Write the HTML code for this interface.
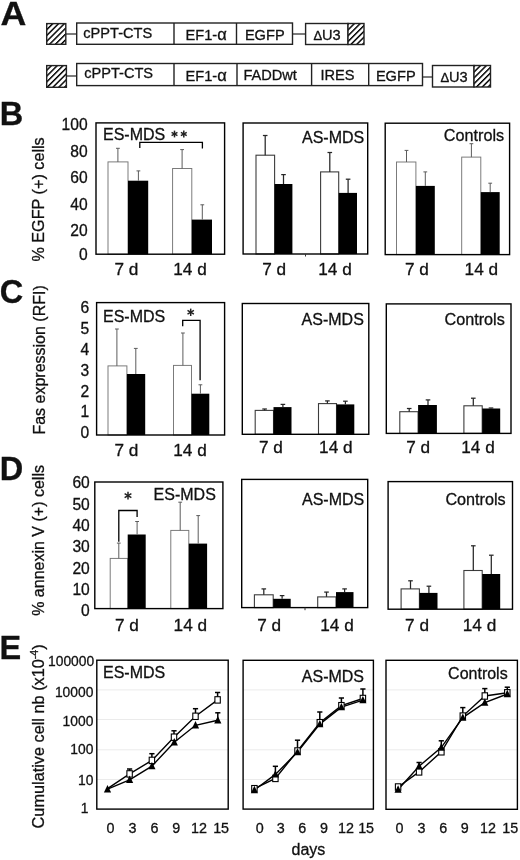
<!DOCTYPE html>
<html><head><meta charset="utf-8"><title>Figure</title>
<style>
html,body{margin:0;padding:0;background:#fff;}
body{width:520px;height:860px;overflow:hidden;font-family:"Liberation Sans", sans-serif;}
svg{display:block;will-change:transform;filter:blur(0.35px);}
svg text{font-family:"Liberation Sans", sans-serif;fill:#111;stroke:#111;stroke-width:0.3px;}
</style></head><body>
<svg width="520" height="860" viewBox="0 0 520 860">
<defs>
<pattern id="hatch" width="4.1" height="4.1" patternUnits="userSpaceOnUse" patternTransform="rotate(-45)">
<rect width="4.1" height="4.1" fill="#fff"/>
<rect y="0" width="4.1" height="1.45" fill="#000"/>
</pattern>
</defs>
<rect width="520" height="860" fill="#fff"/>
<text transform="translate(0.6,25.2) scale(1.1,1)" font-size="32.5" font-weight="bold">A</text>
<text x="-0.3" y="125.3" font-size="32.5" text-anchor="start" font-weight="bold" stroke="#111" stroke-width="0.4">B</text>
<text x="-0.3" y="302.6" font-size="32.5" text-anchor="start" font-weight="bold" stroke="#111" stroke-width="0.4">C</text>
<text x="-0.3" y="479.5" font-size="32.5" text-anchor="start" font-weight="bold" stroke="#111" stroke-width="0.4">D</text>
<text x="-0.5" y="659.3" font-size="32.5" text-anchor="start" font-weight="bold" stroke="#111" stroke-width="0.4">E</text>
<rect x="46.7" y="23.6" width="19.1" height="20.7" fill="url(#hatch)" stroke="#222" stroke-width="1.4"/>
<line x1="65.8" y1="34" x2="76.7" y2="34" stroke="#222" stroke-width="1.2" />
<rect x="76.7" y="23" width="215.8" height="21.3" fill="none" stroke="#222" stroke-width="1.4"/>
<line x1="174" y1="23" x2="174" y2="44.3" stroke="#222" stroke-width="1.4" />
<line x1="236.5" y1="23" x2="236.5" y2="44.3" stroke="#222" stroke-width="1.4" />
<line x1="292.5" y1="34" x2="305.6" y2="34" stroke="#222" stroke-width="1.2" />
<rect x="305.6" y="23.5" width="42.4" height="21.0" fill="none" stroke="#222" stroke-width="1.4"/>
<rect x="348" y="23.5" width="16" height="21.0" fill="url(#hatch)" stroke="#222" stroke-width="1.4"/>
<text x="83.3" y="38" font-size="14.6" text-anchor="start" font-weight="normal" >cPPT-CTS</text>
<text x="185.5" y="40" font-size="14.6" text-anchor="start" font-weight="normal" >EF1-<tspan font-size="16.5">α</tspan></text>
<text x="244.9" y="40" font-size="14.6" text-anchor="start" font-weight="normal" >EGFP</text>
<text x="313.4" y="40" font-size="14.6" text-anchor="start" font-weight="normal" ><tspan font-size="13">Δ</tspan>U3</text>
<rect x="46.7" y="65.6" width="19.7" height="21.7" fill="url(#hatch)" stroke="#222" stroke-width="1.4"/>
<line x1="66.4" y1="76" x2="76.7" y2="76" stroke="#222" stroke-width="1.2" />
<rect x="76.7" y="63.5" width="345.8" height="22.1" fill="none" stroke="#222" stroke-width="1.4"/>
<line x1="174" y1="63.5" x2="174" y2="85.6" stroke="#222" stroke-width="1.4" />
<line x1="237" y1="63.5" x2="237" y2="85.6" stroke="#222" stroke-width="1.4" />
<line x1="311.6" y1="63.5" x2="311.6" y2="85.6" stroke="#222" stroke-width="1.4" />
<line x1="368.7" y1="63.5" x2="368.7" y2="85.6" stroke="#222" stroke-width="1.4" />
<line x1="422.5" y1="77" x2="432.5" y2="77" stroke="#222" stroke-width="1.2" />
<rect x="432.5" y="65.5" width="41.5" height="21.5" fill="none" stroke="#222" stroke-width="1.4"/>
<rect x="474" y="65.5" width="16.5" height="21.5" fill="url(#hatch)" stroke="#222" stroke-width="1.4"/>
<text x="84.2" y="78" font-size="14.6" text-anchor="start" font-weight="normal" >cPPT-CTS</text>
<text x="185.5" y="80.6" font-size="14.6" text-anchor="start" font-weight="normal" >EF1-<tspan font-size="16.5">α</tspan></text>
<text x="243.4" y="80" font-size="14.6" text-anchor="start" font-weight="normal" >FADDwt</text>
<text x="320.4" y="79.6" font-size="14.6" text-anchor="start" font-weight="normal" >IRES</text>
<text x="375.9" y="81" font-size="14.6" text-anchor="start" font-weight="normal" >EGFP</text>
<text x="440.4" y="81.8" font-size="14.6" text-anchor="start" font-weight="normal" ><tspan font-size="13">Δ</tspan>U3</text>
<rect x="108" y="161.9" width="20" height="92.3" fill="#fff" stroke="#757575" stroke-width="0.95"/>
<line x1="117.9" y1="161.9" x2="117.9" y2="148.3" stroke="#5c5c5c" stroke-width="1.0" />
<line x1="116.0" y1="148.3" x2="119.8" y2="148.3" stroke="#5c5c5c" stroke-width="1.0" />
<rect x="128" y="180.7" width="20.2" height="73.5" fill="#000" stroke="none"/>
<line x1="138.4" y1="180.7" x2="138.4" y2="170.9" stroke="#5c5c5c" stroke-width="1.0" />
<line x1="136.5" y1="170.9" x2="140.3" y2="170.9" stroke="#5c5c5c" stroke-width="1.0" />
<rect x="172.6" y="168.5" width="19.2" height="85.7" fill="#fff" stroke="#757575" stroke-width="0.95"/>
<line x1="182.1" y1="168.5" x2="182.1" y2="149.6" stroke="#5c5c5c" stroke-width="1.0" />
<line x1="180.2" y1="149.6" x2="184.0" y2="149.6" stroke="#5c5c5c" stroke-width="1.0" />
<rect x="191.8" y="219.6" width="20.2" height="34.6" fill="#000" stroke="none"/>
<line x1="202.3" y1="219.6" x2="202.3" y2="204.8" stroke="#5c5c5c" stroke-width="1.0" />
<line x1="200.4" y1="204.8" x2="204.2" y2="204.8" stroke="#5c5c5c" stroke-width="1.0" />
<rect x="96" y="122.9" width="128.6" height="131.3" fill="none" stroke="#000" stroke-width="1.4"/>
<rect x="256" y="155.2" width="18.6" height="98.8" fill="#fff" stroke="#3c3c3c" stroke-width="1.1"/>
<line x1="265.2" y1="155.2" x2="265.2" y2="135.5" stroke="#262626" stroke-width="1.25" />
<line x1="262.9" y1="135.5" x2="267.5" y2="135.5" stroke="#262626" stroke-width="1.25" />
<rect x="274.6" y="184" width="17.8" height="70" fill="#000" stroke="none"/>
<line x1="283.5" y1="184" x2="283.5" y2="174.6" stroke="#262626" stroke-width="1.25" />
<line x1="281.2" y1="174.6" x2="285.8" y2="174.6" stroke="#262626" stroke-width="1.25" />
<rect x="320.6" y="171.9" width="18.1" height="82.1" fill="#fff" stroke="#3c3c3c" stroke-width="1.1"/>
<line x1="329.8" y1="171.9" x2="329.8" y2="152.5" stroke="#262626" stroke-width="1.25" />
<line x1="327.5" y1="152.5" x2="332.1" y2="152.5" stroke="#262626" stroke-width="1.25" />
<rect x="338.7" y="192.9" width="18.3" height="61.1" fill="#000" stroke="none"/>
<line x1="348.1" y1="192.9" x2="348.1" y2="179.2" stroke="#262626" stroke-width="1.25" />
<line x1="345.8" y1="179.2" x2="350.4" y2="179.2" stroke="#262626" stroke-width="1.25" />
<rect x="243.1" y="123" width="124.6" height="131" fill="none" stroke="#000" stroke-width="1.4"/>
<line x1="305.5" y1="254" x2="305.5" y2="256.5" stroke="#333" stroke-width="1" />
<rect x="396.5" y="162" width="19.4" height="92.6" fill="#fff" stroke="#757575" stroke-width="0.95"/>
<line x1="406.5" y1="162" x2="406.5" y2="150.4" stroke="#5c5c5c" stroke-width="1.0" />
<line x1="404.6" y1="150.4" x2="408.4" y2="150.4" stroke="#5c5c5c" stroke-width="1.0" />
<rect x="415.9" y="185.9" width="18.9" height="68.7" fill="#000" stroke="none"/>
<line x1="425.3" y1="185.9" x2="425.3" y2="171.9" stroke="#5c5c5c" stroke-width="1.0" />
<line x1="423.4" y1="171.9" x2="427.2" y2="171.9" stroke="#5c5c5c" stroke-width="1.0" />
<rect x="461.7" y="157.1" width="19.1" height="97.5" fill="#fff" stroke="#757575" stroke-width="0.95"/>
<line x1="471.4" y1="157.1" x2="471.4" y2="143.7" stroke="#5c5c5c" stroke-width="1.0" />
<line x1="469.5" y1="143.7" x2="473.3" y2="143.7" stroke="#5c5c5c" stroke-width="1.0" />
<rect x="480.8" y="192.1" width="18.9" height="62.5" fill="#000" stroke="none"/>
<line x1="490.2" y1="192.1" x2="490.2" y2="183.2" stroke="#5c5c5c" stroke-width="1.0" />
<line x1="488.3" y1="183.2" x2="492.1" y2="183.2" stroke="#5c5c5c" stroke-width="1.0" />
<rect x="385.2" y="123.2" width="124.4" height="131.4" fill="none" stroke="#000" stroke-width="1.4"/>
<text x="87.6" y="130.3" font-size="15.6" text-anchor="end" font-weight="normal" >100</text>
<text x="87.6" y="156.7" font-size="15.6" text-anchor="end" font-weight="normal" >80</text>
<text x="87.6" y="183.2" font-size="15.6" text-anchor="end" font-weight="normal" >60</text>
<text x="87.6" y="209.7" font-size="15.6" text-anchor="end" font-weight="normal" >40</text>
<text x="87.6" y="235.7" font-size="15.6" text-anchor="end" font-weight="normal" >20</text>
<text x="87.6" y="259.8" font-size="15.6" text-anchor="end" font-weight="normal" >0</text>
<text transform="translate(44.3,261.6) rotate(-90)" font-size="16.2">% EGFP (+) cells</text>
<text x="103" y="139.5" font-size="16.0" text-anchor="start" font-weight="normal" >ES-MDS</text>
<text x="302.0" y="143.2" font-size="16.0" text-anchor="start" font-weight="normal" >AS-MDS</text>
<text x="443.8" y="140.9" font-size="16.2" text-anchor="start" font-weight="normal" >Controls</text>
<text x="114.5" y="275.1" font-size="17.2" text-anchor="start" font-weight="normal" >7 d</text>
<text x="173.29999999999998" y="275.1" font-size="17.2" text-anchor="start" font-weight="normal" >14 d</text>
<text x="262.2" y="275.1" font-size="17.2" text-anchor="start" font-weight="normal" >7 d</text>
<text x="318.29999999999995" y="275.1" font-size="17.2" text-anchor="start" font-weight="normal" >14 d</text>
<text x="405.0" y="275.1" font-size="17.2" text-anchor="start" font-weight="normal" >7 d</text>
<text x="464.59999999999997" y="275.1" font-size="17.2" text-anchor="start" font-weight="normal" >14 d</text>
<polyline points="139.8,148 139.8,142.3 202.4,142.3 202.4,148.6" fill="none" stroke="#000" stroke-width="1.3"/>
<line x1="174.5" y1="130.6" x2="174.5" y2="137.4" stroke="#222" stroke-width="1.5" />
<line x1="171.56" y1="132.3" x2="177.44" y2="135.7" stroke="#222" stroke-width="1.5" />
<line x1="177.44" y1="132.3" x2="171.56" y2="135.7" stroke="#222" stroke-width="1.5" />
<line x1="183.8" y1="130.6" x2="183.8" y2="137.4" stroke="#222" stroke-width="1.5" />
<line x1="180.86" y1="132.3" x2="186.74" y2="135.7" stroke="#222" stroke-width="1.5" />
<line x1="186.74" y1="132.3" x2="180.86" y2="135.7" stroke="#222" stroke-width="1.5" />
<rect x="108" y="365.9" width="18.9" height="69.1" fill="#fff" stroke="#757575" stroke-width="0.95"/>
<line x1="116.9" y1="365.9" x2="116.9" y2="329" stroke="#5c5c5c" stroke-width="1.0" />
<line x1="115.0" y1="329" x2="118.8" y2="329" stroke="#5c5c5c" stroke-width="1.0" />
<rect x="126.9" y="374" width="18.3" height="61" fill="#000" stroke="none"/>
<line x1="135.8" y1="374" x2="135.8" y2="348.4" stroke="#5c5c5c" stroke-width="1.0" />
<line x1="133.9" y1="348.4" x2="137.7" y2="348.4" stroke="#5c5c5c" stroke-width="1.0" />
<rect x="173.5" y="365.4" width="18.0" height="69.6" fill="#fff" stroke="#757575" stroke-width="0.95"/>
<line x1="182.9" y1="365.4" x2="182.9" y2="333" stroke="#5c5c5c" stroke-width="1.0" />
<line x1="181.0" y1="333" x2="184.8" y2="333" stroke="#5c5c5c" stroke-width="1.0" />
<rect x="191.5" y="393.7" width="17.8" height="41.3" fill="#000" stroke="none"/>
<line x1="200.4" y1="393.7" x2="200.4" y2="384.8" stroke="#5c5c5c" stroke-width="1.0" />
<line x1="198.5" y1="384.8" x2="202.3" y2="384.8" stroke="#5c5c5c" stroke-width="1.0" />
<rect x="96.6" y="302.6" width="128.0" height="132.4" fill="none" stroke="#000" stroke-width="1.4"/>
<rect x="255.2" y="410.4" width="18.3" height="23.9" fill="#fff" stroke="#3c3c3c" stroke-width="1.1"/>
<line x1="264.6" y1="410.4" x2="264.6" y2="409" stroke="#262626" stroke-width="1.25" />
<line x1="262.3" y1="409" x2="266.9" y2="409" stroke="#262626" stroke-width="1.25" />
<rect x="273.5" y="407.1" width="18.0" height="27.2" fill="#000" stroke="none"/>
<line x1="282.9" y1="407.1" x2="282.9" y2="404.4" stroke="#262626" stroke-width="1.25" />
<line x1="280.6" y1="404.4" x2="285.2" y2="404.4" stroke="#262626" stroke-width="1.25" />
<rect x="318.5" y="403.6" width="18.0" height="30.7" fill="#fff" stroke="#3c3c3c" stroke-width="1.1"/>
<line x1="327.4" y1="403.6" x2="327.4" y2="400.9" stroke="#262626" stroke-width="1.25" />
<line x1="325.1" y1="400.9" x2="329.7" y2="400.9" stroke="#262626" stroke-width="1.25" />
<rect x="336.5" y="404.4" width="17.8" height="29.9" fill="#000" stroke="none"/>
<line x1="345.4" y1="404.4" x2="345.4" y2="401.2" stroke="#262626" stroke-width="1.25" />
<line x1="343.1" y1="401.2" x2="347.7" y2="401.2" stroke="#262626" stroke-width="1.25" />
<rect x="242.3" y="303.5" width="126.5" height="130.8" fill="none" stroke="#000" stroke-width="1.4"/>
<rect x="399.8" y="411.7" width="18.3" height="21.7" fill="#fff" stroke="#3c3c3c" stroke-width="1.1"/>
<line x1="409.2" y1="411.7" x2="409.2" y2="408.5" stroke="#262626" stroke-width="1.25" />
<line x1="406.9" y1="408.5" x2="411.5" y2="408.5" stroke="#262626" stroke-width="1.25" />
<rect x="418.1" y="405" width="18.8" height="28.4" fill="#000" stroke="none"/>
<line x1="428" y1="405" x2="428" y2="399.9" stroke="#262626" stroke-width="1.25" />
<line x1="425.7" y1="399.9" x2="430.3" y2="399.9" stroke="#262626" stroke-width="1.25" />
<rect x="463.9" y="405.8" width="18.3" height="27.6" fill="#fff" stroke="#3c3c3c" stroke-width="1.1"/>
<line x1="473.3" y1="405.8" x2="473.3" y2="398.2" stroke="#262626" stroke-width="1.25" />
<line x1="471.0" y1="398.2" x2="475.6" y2="398.2" stroke="#262626" stroke-width="1.25" />
<rect x="482.2" y="408.5" width="18.0" height="24.9" fill="#000" stroke="none"/>
<line x1="491" y1="408.5" x2="491" y2="408" stroke="#262626" stroke-width="1.25" />
<line x1="488.7" y1="408" x2="493.3" y2="408" stroke="#262626" stroke-width="1.25" />
<rect x="386.3" y="303.9" width="124.7" height="129.5" fill="none" stroke="#000" stroke-width="1.4"/>
<text x="89.3" y="312.9" font-size="15.6" text-anchor="end" font-weight="normal" >6</text>
<text x="89.3" y="333.9" font-size="15.6" text-anchor="end" font-weight="normal" >5</text>
<text x="89.3" y="354.7" font-size="15.6" text-anchor="end" font-weight="normal" >4</text>
<text x="89.3" y="375.8" font-size="15.6" text-anchor="end" font-weight="normal" >3</text>
<text x="89.3" y="396.6" font-size="15.6" text-anchor="end" font-weight="normal" >2</text>
<text x="89.3" y="417.4" font-size="15.6" text-anchor="end" font-weight="normal" >1</text>
<text x="89.3" y="438.1" font-size="15.6" text-anchor="end" font-weight="normal" >0</text>
<text transform="translate(44.5,434.6) rotate(-90)" font-size="16">Fas expression (RFI)</text>
<text x="103" y="322.3" font-size="16.0" text-anchor="start" font-weight="normal" >ES-MDS</text>
<text x="301.6" y="324.7" font-size="16.0" text-anchor="start" font-weight="normal" >AS-MDS</text>
<text x="444.5" y="325" font-size="16.2" text-anchor="start" font-weight="normal" >Controls</text>
<text x="114.5" y="455.6" font-size="17.2" text-anchor="start" font-weight="normal" >7 d</text>
<text x="173.29999999999998" y="455.6" font-size="17.2" text-anchor="start" font-weight="normal" >14 d</text>
<text x="259.0" y="453.1" font-size="17.2" text-anchor="start" font-weight="normal" >7 d</text>
<text x="319.09999999999997" y="453.1" font-size="17.2" text-anchor="start" font-weight="normal" >14 d</text>
<text x="406.2" y="452.8" font-size="17.2" text-anchor="start" font-weight="normal" >7 d</text>
<text x="461.29999999999995" y="452.8" font-size="17.2" text-anchor="start" font-weight="normal" >14 d</text>
<polyline points="182.7,326.3 182.7,320.3 200.1,320.3 200.1,380.2" fill="none" stroke="#000" stroke-width="1.3"/>
<line x1="190.7" y1="308.6" x2="190.7" y2="316.0" stroke="#222" stroke-width="1.5" />
<line x1="187.5" y1="310.45" x2="193.9" y2="314.15" stroke="#222" stroke-width="1.5" />
<line x1="193.9" y1="310.45" x2="187.5" y2="314.15" stroke="#222" stroke-width="1.5" />
<rect x="110.2" y="558.4" width="17.5" height="50.2" fill="#fff" stroke="#757575" stroke-width="0.95"/>
<line x1="118.8" y1="558.4" x2="118.8" y2="543.1" stroke="#5c5c5c" stroke-width="1.0" />
<line x1="116.9" y1="543.1" x2="120.7" y2="543.1" stroke="#5c5c5c" stroke-width="1.0" />
<rect x="127.7" y="534.5" width="18.0" height="74.1" fill="#000" stroke="none"/>
<line x1="137.1" y1="534.5" x2="137.1" y2="521.5" stroke="#5c5c5c" stroke-width="1.0" />
<line x1="135.2" y1="521.5" x2="139.0" y2="521.5" stroke="#5c5c5c" stroke-width="1.0" />
<rect x="170.8" y="530.4" width="18.0" height="78.2" fill="#fff" stroke="#757575" stroke-width="0.95"/>
<line x1="180.2" y1="530.4" x2="180.2" y2="502.2" stroke="#5c5c5c" stroke-width="1.0" />
<line x1="178.3" y1="502.2" x2="182.1" y2="502.2" stroke="#5c5c5c" stroke-width="1.0" />
<rect x="188.8" y="543.6" width="18.3" height="65.0" fill="#000" stroke="none"/>
<line x1="198.2" y1="543.6" x2="198.2" y2="515.6" stroke="#5c5c5c" stroke-width="1.0" />
<line x1="196.3" y1="515.6" x2="200.1" y2="515.6" stroke="#5c5c5c" stroke-width="1.0" />
<rect x="94.8" y="482" width="128.1" height="126.6" fill="none" stroke="#000" stroke-width="1.4"/>
<rect x="254.4" y="594.8" width="18.8" height="12.8" fill="#fff" stroke="#3c3c3c" stroke-width="1.1"/>
<line x1="263.8" y1="594.8" x2="263.8" y2="588.9" stroke="#262626" stroke-width="1.25" />
<line x1="261.5" y1="588.9" x2="266.1" y2="588.9" stroke="#262626" stroke-width="1.25" />
<rect x="273.2" y="598.8" width="17.5" height="8.8" fill="#000" stroke="none"/>
<line x1="282.1" y1="598.8" x2="282.1" y2="595.6" stroke="#262626" stroke-width="1.25" />
<line x1="279.8" y1="595.6" x2="284.4" y2="595.6" stroke="#262626" stroke-width="1.25" />
<rect x="317.7" y="596.9" width="18.3" height="10.7" fill="#fff" stroke="#3c3c3c" stroke-width="1.1"/>
<line x1="326.5" y1="596.9" x2="326.5" y2="592.1" stroke="#262626" stroke-width="1.25" />
<line x1="324.2" y1="592.1" x2="328.8" y2="592.1" stroke="#262626" stroke-width="1.25" />
<rect x="336" y="592.1" width="17.5" height="15.5" fill="#000" stroke="none"/>
<line x1="344.6" y1="592.1" x2="344.6" y2="588.9" stroke="#262626" stroke-width="1.25" />
<line x1="342.3" y1="588.9" x2="346.9" y2="588.9" stroke="#262626" stroke-width="1.25" />
<rect x="241.7" y="479.4" width="126.0" height="128.2" fill="none" stroke="#000" stroke-width="1.4"/>
<line x1="305" y1="607.6" x2="305" y2="610.2" stroke="#333" stroke-width="1" />
<rect x="401.1" y="588.9" width="18.3" height="20.3" fill="#fff" stroke="#3c3c3c" stroke-width="1.1"/>
<line x1="410.5" y1="588.9" x2="410.5" y2="580.8" stroke="#262626" stroke-width="1.25" />
<line x1="408.2" y1="580.8" x2="412.8" y2="580.8" stroke="#262626" stroke-width="1.25" />
<rect x="419.4" y="592.9" width="18.1" height="16.3" fill="#000" stroke="none"/>
<line x1="428.9" y1="592.9" x2="428.9" y2="586.2" stroke="#262626" stroke-width="1.25" />
<line x1="426.6" y1="586.2" x2="431.2" y2="586.2" stroke="#262626" stroke-width="1.25" />
<rect x="463.9" y="570.5" width="18.3" height="38.7" fill="#fff" stroke="#3c3c3c" stroke-width="1.1"/>
<line x1="473.3" y1="570.5" x2="473.3" y2="545.8" stroke="#262626" stroke-width="1.25" />
<line x1="471.0" y1="545.8" x2="475.6" y2="545.8" stroke="#262626" stroke-width="1.25" />
<rect x="482.2" y="574" width="18.0" height="35.2" fill="#000" stroke="none"/>
<line x1="491.3" y1="574" x2="491.3" y2="555.2" stroke="#262626" stroke-width="1.25" />
<line x1="489.0" y1="555.2" x2="493.6" y2="555.2" stroke="#262626" stroke-width="1.25" />
<rect x="388.1" y="481.6" width="124.4" height="127.6" fill="none" stroke="#000" stroke-width="1.4"/>
<text x="89.8" y="488.4" font-size="15.6" text-anchor="end" font-weight="normal" >60</text>
<text x="89.8" y="509.9" font-size="15.6" text-anchor="end" font-weight="normal" >50</text>
<text x="89.8" y="531.3" font-size="15.6" text-anchor="end" font-weight="normal" >40</text>
<text x="89.8" y="552.4" font-size="15.6" text-anchor="end" font-weight="normal" >30</text>
<text x="89.8" y="573.8" font-size="15.6" text-anchor="end" font-weight="normal" >20</text>
<text x="89.8" y="595.0" font-size="15.6" text-anchor="end" font-weight="normal" >10</text>
<text x="89.8" y="616.2" font-size="15.6" text-anchor="end" font-weight="normal" >0</text>
<text transform="translate(44.3,615.8) rotate(-90)" font-size="16">% annexin V (+) cells</text>
<text x="153.6" y="500" font-size="16.0" text-anchor="start" font-weight="normal" >ES-MDS</text>
<text x="302" y="504.6" font-size="16.0" text-anchor="start" font-weight="normal" >AS-MDS</text>
<text x="445.4" y="504.9" font-size="16.2" text-anchor="start" font-weight="normal" >Controls</text>
<text x="115.0" y="630.6" font-size="17.2" text-anchor="start" font-weight="normal" >7 d</text>
<text x="173.6" y="630.6" font-size="17.2" text-anchor="start" font-weight="normal" >14 d</text>
<text x="257.2" y="631" font-size="17.2" text-anchor="start" font-weight="normal" >7 d</text>
<text x="320.29999999999995" y="631" font-size="17.2" text-anchor="start" font-weight="normal" >14 d</text>
<text x="405.09999999999997" y="631.1" font-size="17.2" text-anchor="start" font-weight="normal" >7 d</text>
<text x="462.79999999999995" y="631.1" font-size="17.2" text-anchor="start" font-weight="normal" >14 d</text>
<polyline points="118.8,541.7 118.8,510.5 137.1,510.5 137.1,517" fill="none" stroke="#000" stroke-width="1.3"/>
<line x1="128.0" y1="491.7" x2="128.0" y2="499.5" stroke="#222" stroke-width="1.5" />
<line x1="124.62" y1="493.65" x2="131.38" y2="497.55" stroke="#222" stroke-width="1.5" />
<line x1="131.38" y1="493.65" x2="124.62" y2="497.55" stroke="#222" stroke-width="1.5" />
<line x1="96.8" y1="689.9" x2="228.2" y2="689.9" stroke="#ebebeb" stroke-width="1" />
<line x1="96.8" y1="719.5" x2="228.2" y2="719.5" stroke="#ebebeb" stroke-width="1" />
<line x1="96.8" y1="749.8" x2="228.2" y2="749.8" stroke="#ebebeb" stroke-width="1" />
<line x1="96.8" y1="779.5" x2="228.2" y2="779.5" stroke="#ebebeb" stroke-width="1" />
<line x1="129.6" y1="773.9" x2="129.6" y2="769" stroke="#000" stroke-width="1.5" />
<line x1="127.0" y1="769" x2="132.2" y2="769" stroke="#000" stroke-width="1.5" />
<line x1="151.9" y1="760.4" x2="151.9" y2="753.7" stroke="#000" stroke-width="1.5" />
<line x1="149.3" y1="753.7" x2="154.5" y2="753.7" stroke="#000" stroke-width="1.5" />
<line x1="174" y1="737.2" x2="174" y2="730.8" stroke="#000" stroke-width="1.5" />
<line x1="171.4" y1="730.8" x2="176.6" y2="730.8" stroke="#000" stroke-width="1.5" />
<line x1="195.5" y1="716.3" x2="195.5" y2="708.7" stroke="#000" stroke-width="1.5" />
<line x1="192.9" y1="708.7" x2="198.1" y2="708.7" stroke="#000" stroke-width="1.5" />
<line x1="217.6" y1="699.9" x2="217.6" y2="692.5" stroke="#000" stroke-width="1.5" />
<line x1="215.0" y1="692.5" x2="220.2" y2="692.5" stroke="#000" stroke-width="1.5" />
<line x1="217.8" y1="720.3" x2="217.8" y2="712.8" stroke="#000" stroke-width="1.5" />
<line x1="215.20000000000002" y1="712.8" x2="220.4" y2="712.8" stroke="#000" stroke-width="1.5" />
<polyline points="107.5,789.2 129.6,779.8 151.9,766.1 174.3,742.3 195.5,725.3 217.8,720.3" fill="none" stroke="#000" stroke-width="1.4"/>
<polyline points="107.5,788.7 129.6,773.9 151.9,760.4 174,737.2 195.5,716.3 217.6,699.9" fill="none" stroke="#000" stroke-width="1.4"/>
<rect x="126.9" y="770.7" width="5.4" height="6.4" fill="#fff" stroke="#000" stroke-width="1.1"/>
<rect x="149.2" y="757.2" width="5.4" height="6.4" fill="#fff" stroke="#000" stroke-width="1.1"/>
<rect x="171.3" y="734.0" width="5.4" height="6.4" fill="#fff" stroke="#000" stroke-width="1.1"/>
<rect x="192.8" y="713.1" width="5.4" height="6.4" fill="#fff" stroke="#000" stroke-width="1.1"/>
<rect x="214.9" y="696.7" width="5.4" height="6.4" fill="#fff" stroke="#000" stroke-width="1.1"/>
<polygon points="107.5,785.0 103.9,792.4 111.1,792.4" fill="#000"/>
<polygon points="129.6,775.6 126.0,783.0 133.2,783.0" fill="#000"/>
<polygon points="151.9,761.9 148.3,769.3 155.5,769.3" fill="#000"/>
<polygon points="174.3,738.1 170.7,745.5 177.9,745.5" fill="#000"/>
<polygon points="195.5,721.1 191.9,728.5 199.1,728.5" fill="#000"/>
<polygon points="217.8,716.1 214.2,723.5 221.4,723.5" fill="#000"/>
<rect x="96.8" y="660.2" width="131.4" height="148.9" fill="none" stroke="#000" stroke-width="1.4"/>
<line x1="243.1" y1="689.9" x2="373.4" y2="689.9" stroke="#ebebeb" stroke-width="1" />
<line x1="243.1" y1="719.5" x2="373.4" y2="719.5" stroke="#ebebeb" stroke-width="1" />
<line x1="243.1" y1="749.8" x2="373.4" y2="749.8" stroke="#ebebeb" stroke-width="1" />
<line x1="243.1" y1="779.5" x2="373.4" y2="779.5" stroke="#ebebeb" stroke-width="1" />
<line x1="275.4" y1="773.8" x2="275.4" y2="766.3" stroke="#000" stroke-width="1.5" />
<line x1="272.79999999999995" y1="766.3" x2="278.0" y2="766.3" stroke="#000" stroke-width="1.5" />
<line x1="297.5" y1="751" x2="297.5" y2="740.2" stroke="#000" stroke-width="1.5" />
<line x1="294.9" y1="740.2" x2="300.1" y2="740.2" stroke="#000" stroke-width="1.5" />
<line x1="319.8" y1="722.7" x2="319.8" y2="712" stroke="#000" stroke-width="1.5" />
<line x1="317.2" y1="712" x2="322.40000000000003" y2="712" stroke="#000" stroke-width="1.5" />
<line x1="341.4" y1="705.7" x2="341.4" y2="698" stroke="#000" stroke-width="1.5" />
<line x1="338.79999999999995" y1="698" x2="344.0" y2="698" stroke="#000" stroke-width="1.5" />
<line x1="362.9" y1="698.5" x2="362.9" y2="689" stroke="#000" stroke-width="1.5" />
<line x1="360.29999999999995" y1="689" x2="365.5" y2="689" stroke="#000" stroke-width="1.5" />
<polyline points="254.4,790 275.4,774.4 297.5,752.1 319.8,724.1 341.4,707.1 362.9,700.1" fill="none" stroke="#000" stroke-width="1.4"/>
<polyline points="254.4,788.7 275.4,778.4 297.5,751 319.8,722.7 341.4,705.7 362.9,698.5" fill="none" stroke="#000" stroke-width="1.4"/>
<rect x="251.7" y="785.5" width="5.4" height="6.4" fill="#fff" stroke="#000" stroke-width="1.1"/>
<rect x="272.7" y="775.2" width="5.4" height="6.4" fill="#fff" stroke="#000" stroke-width="1.1"/>
<rect x="294.8" y="747.8" width="5.4" height="6.4" fill="#fff" stroke="#000" stroke-width="1.1"/>
<rect x="317.1" y="719.5" width="5.4" height="6.4" fill="#fff" stroke="#000" stroke-width="1.1"/>
<rect x="338.7" y="702.5" width="5.4" height="6.4" fill="#fff" stroke="#000" stroke-width="1.1"/>
<rect x="360.2" y="695.3" width="5.4" height="6.4" fill="#fff" stroke="#000" stroke-width="1.1"/>
<polygon points="254.4,785.8 250.8,793.2 258.0,793.2" fill="#000"/>
<polygon points="275.4,770.2 271.8,777.6 279.0,777.6" fill="#000"/>
<polygon points="297.5,747.9 293.9,755.3 301.1,755.3" fill="#000"/>
<polygon points="319.8,719.9 316.2,727.3 323.4,727.3" fill="#000"/>
<polygon points="341.4,702.9 337.8,710.3 345.0,710.3" fill="#000"/>
<polygon points="362.9,695.9 359.3,703.3 366.5,703.3" fill="#000"/>
<rect x="243.1" y="660.3" width="130.3" height="148.8" fill="none" stroke="#000" stroke-width="1.4"/>
<line x1="386" y1="689.9" x2="517.4" y2="689.9" stroke="#ebebeb" stroke-width="1" />
<line x1="386" y1="719.5" x2="517.4" y2="719.5" stroke="#ebebeb" stroke-width="1" />
<line x1="386" y1="749.8" x2="517.4" y2="749.8" stroke="#ebebeb" stroke-width="1" />
<line x1="386" y1="779.5" x2="517.4" y2="779.5" stroke="#ebebeb" stroke-width="1" />
<line x1="419.1" y1="766" x2="419.1" y2="762.5" stroke="#000" stroke-width="1.5" />
<line x1="416.5" y1="762.5" x2="421.70000000000005" y2="762.5" stroke="#000" stroke-width="1.5" />
<line x1="441.3" y1="749" x2="441.3" y2="740.8" stroke="#000" stroke-width="1.5" />
<line x1="438.7" y1="740.8" x2="443.90000000000003" y2="740.8" stroke="#000" stroke-width="1.5" />
<line x1="462.8" y1="716.1" x2="462.8" y2="707.6" stroke="#000" stroke-width="1.5" />
<line x1="460.2" y1="707.6" x2="465.40000000000003" y2="707.6" stroke="#000" stroke-width="1.5" />
<line x1="484.8" y1="696" x2="484.8" y2="688.6" stroke="#000" stroke-width="1.5" />
<line x1="482.2" y1="688.6" x2="487.40000000000003" y2="688.6" stroke="#000" stroke-width="1.5" />
<line x1="507.3" y1="693.2" x2="507.3" y2="687.2" stroke="#000" stroke-width="1.5" />
<line x1="504.7" y1="687.2" x2="509.90000000000003" y2="687.2" stroke="#000" stroke-width="1.5" />
<polyline points="398.1,789.5 419.1,766.2 441.2,747.6 462.8,717.6 484.8,702.6 507.3,694" fill="none" stroke="#000" stroke-width="1.4"/>
<polyline points="398.1,787 419.1,771.9 441.4,751.8 462.8,716.1 484.8,696 507.3,692.8" fill="none" stroke="#000" stroke-width="1.4"/>
<rect x="395.4" y="783.8" width="5.4" height="6.4" fill="#fff" stroke="#000" stroke-width="1.1"/>
<rect x="416.4" y="768.7" width="5.4" height="6.4" fill="#fff" stroke="#000" stroke-width="1.1"/>
<rect x="438.7" y="748.6" width="5.4" height="6.4" fill="#fff" stroke="#000" stroke-width="1.1"/>
<rect x="460.1" y="712.9" width="5.4" height="6.4" fill="#fff" stroke="#000" stroke-width="1.1"/>
<rect x="482.1" y="692.8" width="5.4" height="6.4" fill="#fff" stroke="#000" stroke-width="1.1"/>
<rect x="504.6" y="689.6" width="5.4" height="6.4" fill="#fff" stroke="#000" stroke-width="1.1"/>
<polygon points="398.1,785.3 394.5,792.7 401.7,792.7" fill="#000"/>
<polygon points="419.1,762.0 415.5,769.4 422.7,769.4" fill="#000"/>
<polygon points="441.2,743.4 437.6,750.8 444.8,750.8" fill="#000"/>
<polygon points="462.8,713.4 459.2,720.8 466.4,720.8" fill="#000"/>
<polygon points="484.8,698.4 481.2,705.8 488.4,705.8" fill="#000"/>
<polygon points="507.3,689.8 503.7,697.2 510.9,697.2" fill="#000"/>
<rect x="386" y="660.3" width="131.4" height="149.0" fill="none" stroke="#000" stroke-width="1.4"/>
<text transform="translate(94.2,665.6999999999999) scale(0.95,1)" font-size="14.6" text-anchor="end">100000</text>
<text transform="translate(93.4,696.8) scale(0.95,1)" font-size="14.6" text-anchor="end">10000</text>
<text transform="translate(93.4,725.6999999999999) scale(0.95,1)" font-size="14.6" text-anchor="end">1000</text>
<text transform="translate(93.4,754.0999999999999) scale(0.95,1)" font-size="14.6" text-anchor="end">100</text>
<text transform="translate(93.4,784.5) scale(0.95,1)" font-size="14.6" text-anchor="end">10</text>
<text transform="translate(88.5,812.8) scale(0.95,1)" font-size="14.6" text-anchor="end">1</text>
<text transform="translate(44.4,828.4) rotate(-90)" font-size="16.3">Cumulative cell nb (x10<tspan font-size="10.5" dy="-6.5">-4</tspan><tspan dy="6.5">)</tspan></text>
<text x="103" y="677.7" font-size="16.0" text-anchor="start" font-weight="normal" >ES-MDS</text>
<text x="301.8" y="682.4" font-size="16.0" text-anchor="start" font-weight="normal" >AS-MDS</text>
<text x="448.09999999999997" y="678.7" font-size="16.0" text-anchor="start" font-weight="normal" >Controls</text>
<text transform="translate(110.5,832.8) scale(0.95,1)" font-size="15.1" text-anchor="middle">0</text>
<text transform="translate(132.5,832.8) scale(0.95,1)" font-size="15.1" text-anchor="middle">3</text>
<text transform="translate(154.6,832.8) scale(0.95,1)" font-size="15.1" text-anchor="middle">6</text>
<text transform="translate(176.2,832.8) scale(0.95,1)" font-size="15.1" text-anchor="middle">9</text>
<text transform="translate(199,832.8) scale(0.95,1)" font-size="15.1" text-anchor="middle">12</text>
<text transform="translate(221.1,832.8) scale(0.95,1)" font-size="15.1" text-anchor="middle">15</text>
<text transform="translate(259.8,832.8) scale(0.95,1)" font-size="15.1" text-anchor="middle">0</text>
<text transform="translate(280.8,832.8) scale(0.95,1)" font-size="15.1" text-anchor="middle">3</text>
<text transform="translate(302.3,832.8) scale(0.95,1)" font-size="15.1" text-anchor="middle">6</text>
<text transform="translate(323.9,832.8) scale(0.95,1)" font-size="15.1" text-anchor="middle">9</text>
<text transform="translate(345.9,832.8) scale(0.95,1)" font-size="15.1" text-anchor="middle">12</text>
<text transform="translate(366.1,832.8) scale(0.95,1)" font-size="15.1" text-anchor="middle">15</text>
<text transform="translate(399.5,833.3) scale(0.95,1)" font-size="15.1" text-anchor="middle">0</text>
<text transform="translate(421.6,833.3) scale(0.95,1)" font-size="15.1" text-anchor="middle">3</text>
<text transform="translate(443.3,833.3) scale(0.95,1)" font-size="15.1" text-anchor="middle">6</text>
<text transform="translate(464.8,833.3) scale(0.95,1)" font-size="15.1" text-anchor="middle">9</text>
<text transform="translate(487.9,833.3) scale(0.95,1)" font-size="15.1" text-anchor="middle">12</text>
<text transform="translate(510.2,833.3) scale(0.95,1)" font-size="15.1" text-anchor="middle">15</text>
<text x="308.4" y="854.6" font-size="16" text-anchor="middle" font-weight="normal" >days</text>
</svg>
</body></html>
